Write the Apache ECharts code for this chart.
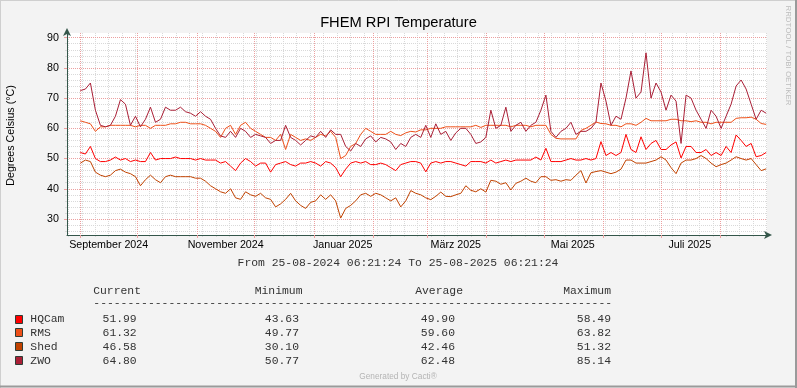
<!DOCTYPE html>
<html>
<head>
<meta charset="utf-8">
<script src="https://cdn.jsdelivr.net/npm/echarts@6/dist/echarts.min.js"></script>
<style>
html,body{margin:0;padding:0;background:#f3f3f3;}
#chart{width:797px;height:388px;}
</style>
</head>
<body>
<div id="chart"></div>
<script>
// ---------- data ----------
const seriesNames = ['HQCam', 'RMS', 'Shed', 'ZWO'];
const seriesColors = ['#FF0000', '#EE5019', '#C14200', '#AA1F36'];
const rangeStart = Date.UTC(2024, 7, 25, 6, 21, 24);
const rangeEnd = Date.UTC(2025, 7, 25, 6, 21, 24);
const firstSample = Date.UTC(2024, 8, 1, 6, 0, 0);
const sampleStepDays = 2.61;

const hqcam = [52,51.5,54,50,49,49,49.5,50.5,49.5,50,49,49.5,49,49,52,49.5,50,50,50,50.5,50,50,50,49.5,50,49.5,49.5,49.5,48.5,49,47.5,46,48.5,50,49,47.5,48.5,48.5,45.5,48,48.5,49,48,47.5,48.5,48.5,49,48.5,47.5,49,48.5,47,44,46.5,48.5,49,48.5,49,48,48,48.5,48,47,46,48,48.5,49,49,48.5,45.6,48.5,49,48.5,49,49,48.5,48,47.5,49,49,49,48.5,49.5,48.5,49,49.5,49,49.5,49.5,49.5,49.5,50.5,49.5,53.4,49,49,49,49.5,50,49.5,49.5,50,49.5,50,55.6,51,52,51,52,58,53,52,57.2,53,55,56,53,53,54.5,55.5,50.2,54,54,52,52,53,51,52,51,54,52,57.8,56,54,55,50.6,51,52];
const rms = [62.5,62,61.5,59,60.5,60.5,61,61,61,61,61,60.5,61,61,60,61,61,61,61.5,61.5,62,62,61.5,61.5,61.5,61,60,59,57,60,61,58,61,62,60,59,58,57,57,56,58,53,58,57,56,56.5,56,57,58,57.5,59,57,50,51,54,55,58,60,59,58,58,58,59,58,57.6,58.5,59,58.8,59.5,59.5,60,60,60,60.5,60.5,60.5,60.5,60.5,60.5,61,60.3,61,61,61,61,61,60.5,61,61,61,60.5,61,61,61,58,56.7,56.5,56.5,56.5,56.5,59.3,60,61,62.1,61.6,61.5,61,61,60.5,61.5,61.5,61,62,63.3,62.5,62.5,62.5,62.5,63,63,62.5,62.5,62.2,62.5,62,62,61.5,62,62,62,62,63.3,63.5,63.5,63.7,63,61.6,61.3];
const shed = [48.5,49.5,49,45.5,44.5,44,44.5,46,46.5,45.5,45,44,41,43,44.5,43,42,44,44.5,44,44,44,44,43.5,43.5,42.5,41,40,39,38.5,40,37,36.5,39,38,37.5,38.5,37,36.5,34,35,36.5,38.5,36,34.5,33.5,35.5,36,38,36.5,38,36,30.3,33.5,34.5,36,38,38.5,37.5,38.5,38,37,36,37,34,36,39.4,38.5,38,37,36.4,37.5,38.9,37.5,37.4,38,38.5,41,39.5,39,40,38.9,42.8,42.5,41.5,42,39.6,41.8,42.5,43.5,42.5,42,44,44,42.8,43,42.5,43,42.8,44.5,46,41.9,45.3,45.7,46,45.5,45,45.5,46.5,49.5,49.5,48.5,48.5,48.5,49,49.5,50.6,49.5,47,45,48.5,49.5,49.5,50,51,50,48.5,47.3,48,48.5,49.5,50.6,50,49.5,50,48,46,46.6];
const zwo = [72.5,73,75,66,61,60.5,61,64,69.5,68,61,64,60.5,63,67,62,63,67,66,66,67,65.5,65,64,65.5,64,63,60,57.5,57,59,57,60,59,57,58,57.5,57,55,56,56,61,57,56,54.5,56,57.5,57,59,57,59.5,58,58,54,52.5,55,54,56.5,57.5,55.5,57,56.5,55.5,53,55,54,57,58,57,61,57,61.5,58,59,56,58.5,60,60,58,55,55.5,57,66,60,61,67,59,61,62,59,61,62,66,71,59,57,59,60,62,58,59,59,60,62,75,69,61,64,63,70,79,70,72,85,70,75,72,66,71,69,55,71,70,66,63,60,66,64,60,64,68,74,76,73,68,63,66,65];

const yMin = 24.7;
const yMax = 91.55;
const yMajorTicks = [30, 40, 50, 60, 70, 80, 90];
const yMinorStep = 2;
const xLabels = ['September 2024', 'November 2024', 'Januar 2025', 'März 2025', 'Mai 2025', 'Juli 2025'];
const xLabelMonths = [[2024, 8], [2024, 10], [2025, 0], [2025, 2], [2025, 4], [2025, 6]];

const legendHeader = ['Current', 'Minimum', 'Average', 'Maximum'];
const legendCurrent = ['51.99', '61.32', '46.58', '64.80'];
const legendMinimum = ['43.63', '49.77', '30.10', '50.77'];
const legendAverage = ['49.90', '59.60', '42.46', '62.48'];
const legendMaximum = ['58.49', '63.82', '51.32', '85.14'];

const titleText = 'FHEM RPI Temperature';
const yAxisTitle = 'Degrees Celsius (°C)';
const periodText = 'From 25-08-2024 06:21:24 To 25-08-2025 06:21:24';
const footerText = 'Generated by Cacti®';
const sideText = 'RRDTOOL / TOBI OETIKER';

// ---------- derived ----------
const DAY = 86400000;
function toPairs(vals) {
  return vals.map((v, i) => [firstSample + i * sampleStepDays * DAY, v]);
}
const monthStarts = [];
for (let y = 2024, m = 8; ; m++) {
  if (m > 11) { m = 0; y++; }
  const t = Date.UTC(y, m, 1);
  if (t > rangeEnd) break;
  monthStarts.push(t);
}
const weekLines = [];
for (let t = Date.UTC(2024, 7, 26); t <= rangeEnd; t += 7 * DAY) {
  if (monthStarts.indexOf(t) < 0) weekLines.push(t);
}
const xLabelValues = xLabelMonths.map(([y, m]) => Date.UTC(y, m, 1) + 15 * DAY);
const yMinorTicks = [];
for (let v = Math.ceil(yMin / yMinorStep) * yMinorStep; v <= yMax; v += yMinorStep) {
  if (yMajorTicks.indexOf(v) < 0) yMinorTicks.push(v);
}

const SANS = '"Liberation Sans", Arial, sans-serif';
const MONO = '"Liberation Mono", "DejaVu Sans Mono", monospace';
const AXIS_COLOR = '#34564a';
const MAJOR_GRID = '#eca0a0';
const MINOR_GRID = '#d9d9d9';

const chart = echarts.init(document.getElementById('chart'), null, {renderer: 'canvas'});

const graphic = [];
graphic.push({type: 'rect', shape: {x: 0, y: 0, width: 797, height: 388}, style: {fill: '#f3f3f3'}, z: -10, silent: true});
graphic.push({type: 'line', shape: {x1: 0, y1: 0.5, x2: 797, y2: 0.5}, style: {stroke: '#cfcfcf', lineWidth: 1}, z: 100});
graphic.push({type: 'line', shape: {x1: 0.5, y1: 0, x2: 0.5, y2: 388}, style: {stroke: '#cfcfcf', lineWidth: 1}, z: 100});
graphic.push({type: 'line', shape: {x1: 0, y1: 386.5, x2: 797, y2: 386.5}, style: {stroke: '#9a9a9a', lineWidth: 2}, z: 100});
graphic.push({type: 'line', shape: {x1: 796, y1: 0, x2: 796, y2: 388}, style: {stroke: '#9a9a9a', lineWidth: 2}, z: 100});
graphic.push({type: 'text', x: 398.5, y: 22.5, style: {text: titleText, font: '14.7px ' + SANS, fill: '#000', align: 'center', verticalAlign: 'middle'}});
graphic.push({type: 'text', x: 11, y: 135.5, rotation: Math.PI / 2, style: {text: yAxisTitle, font: '10.7px ' + SANS, fill: '#000', align: 'center', verticalAlign: 'middle'}});
graphic.push({type: 'text', x: 788.5, y: 55.5, rotation: -Math.PI / 2, style: {text: sideText, font: '7.9px ' + SANS, fill: '#bdbdbd', align: 'center', verticalAlign: 'middle'}});
graphic.push({type: 'text', x: 398, y: 263, style: {text: periodText, font: '11.38px ' + MONO, fill: '#333', align: 'center', verticalAlign: 'middle'}});
const headerRight = [141, 302.5, 463, 611];
legendHeader.forEach((h, i) => {
  graphic.push({type: 'text', x: headerRight[i], y: 291, style: {text: h, font: '11.38px ' + MONO, fill: '#333', align: 'right', verticalAlign: 'middle'}});
});
graphic.push({type: 'text', x: 93.3, y: 302.5, style: {text: '-'.repeat(76), font: '11.38px ' + MONO, fill: '#333', align: 'left', verticalAlign: 'middle'}});
const colRight = [136.7, 299, 455, 611];
const cols = [legendCurrent, legendMinimum, legendAverage, legendMaximum];
seriesNames.forEach((name, k) => {
  const ry = 319 + k * 13.9;
  graphic.push({type: 'rect', shape: {x: 15.5, y: Math.round(ry - 4.5) + 0.5, width: 7, height: 8}, style: {fill: seriesColors[k], stroke: '#2e3d36', lineWidth: 1}});
  graphic.push({type: 'text', x: 30.3, y: ry, style: {text: name, font: '11.38px ' + MONO, fill: '#333', align: 'left', verticalAlign: 'middle'}});
  cols.forEach((col, c) => {
    graphic.push({type: 'text', x: colRight[c], y: ry, style: {text: col[k], font: '11.38px ' + MONO, fill: '#333', align: 'right', verticalAlign: 'middle'}});
  });
});
graphic.push({type: 'text', x: 398, y: 377, style: {text: footerText, font: '8.3px ' + SANS, fill: '#b4b4b4', align: 'center', verticalAlign: 'middle'}});

const option = {
  animation: false,
  backgroundColor: '#f3f3f3',
  grid: {left: 67, top: 33, width: 700, height: 202, show: true, backgroundColor: '#ffffff', borderWidth: 0, containLabel: false, outerBoundsMode: 'none'},
  xAxis: [
    {
      type: 'value', min: rangeStart, max: rangeEnd, position: 'bottom', z: 3,
      axisLine: {show: true, lineStyle: {color: AXIS_COLOR, width: 1}, symbol: ['none', 'arrow'], symbolSize: [6, 8], symbolOffset: [0, 5]},
      axisTick: {show: true, length: 3, customValues: monthStarts, lineStyle: {color: MAJOR_GRID}},
      splitLine: {show: true, lineStyle: {color: MAJOR_GRID, width: 1, type: [1, 1]}},
      axisLabel: {show: true, customValues: xLabelValues, margin: 5, fontSize: 10.7, fontFamily: SANS, color: '#000',
        formatter: function (v) {
          for (let i = 0; i < xLabelValues.length; i++) { if (Math.abs(xLabelValues[i] - v) < DAY) return xLabels[i]; }
          return '';
        }}
    },
    {
      type: 'value', min: rangeStart, max: rangeEnd, position: 'bottom', z: 2,
      axisLine: {show: false}, axisLabel: {show: false},
      axisTick: {show: true, length: 2, customValues: weekLines, lineStyle: {color: MINOR_GRID}},
      splitLine: {show: true, lineStyle: {color: MINOR_GRID, width: 1, type: [1, 1]}}
    }
  ],
  yAxis: [
    {
      type: 'value', min: yMin, max: yMax, position: 'left', z: 3,
      axisLine: {show: true, lineStyle: {color: AXIS_COLOR, width: 1}, symbol: ['none', 'arrow'], symbolSize: [6, 8], symbolOffset: [0, 5]},
      axisTick: {show: true, length: 3, customValues: yMajorTicks, lineStyle: {color: MAJOR_GRID}},
      splitLine: {show: true, lineStyle: {color: MAJOR_GRID, width: 1, type: [1, 1]}},
      axisLabel: {show: true, customValues: yMajorTicks, margin: 8, fontSize: 10.7, fontFamily: SANS, color: '#000'}
    },
    {
      type: 'value', min: yMin, max: yMax, position: 'left', z: 2,
      axisLine: {show: false}, axisLabel: {show: false},
      axisTick: {show: true, length: 2, customValues: yMinorTicks, lineStyle: {color: MINOR_GRID}},
      splitLine: {show: true, lineStyle: {color: MINOR_GRID, width: 1, type: [1, 1]}}
    }
  ],
  series: [hqcam, rms, shed, zwo].map((vals, k) => ({
    name: seriesNames[k], type: 'line', xAxisIndex: 0, yAxisIndex: 0,
    data: toPairs(vals), showSymbol: false, symbol: 'none', smooth: false,
    lineStyle: {color: seriesColors[k], width: 1}, itemStyle: {color: seriesColors[k]},
    z: 5 + k, silent: true
  })),
  graphic: graphic
};
chart.setOption(option);
</script>
</body>
</html>
